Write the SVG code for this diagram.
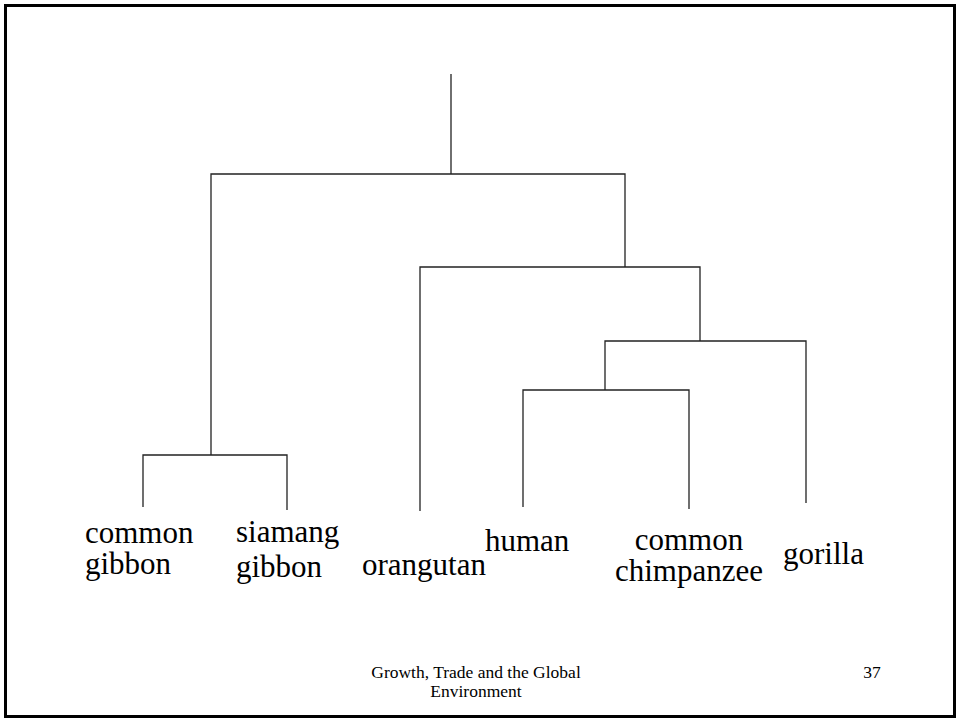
<svg xmlns="http://www.w3.org/2000/svg" width="960" height="721" viewBox="0 0 960 721">
<style>
.frame{fill:#fff;stroke:#000;stroke-width:3}
.edge{fill:none;stroke:#222;stroke-width:1.3}
.lbl{font-family:"Liberation Serif","Times New Roman",serif;font-size:31px;fill:#000}
.ftr{font-family:"Liberation Serif","Times New Roman",serif;font-size:17.5px;fill:#000}
</style>
<rect class="frame" x="5.5" y="5.5" width="949" height="711"/>
<g id="connectors">
<path class="edge" d="M451 74V174"/>
<path class="edge" d="M211 455V174H625V267"/>
<path class="edge" d="M143 507V455H287V510"/>
<path class="edge" d="M420 511V267H700V341"/>
<path class="edge" d="M605 390V341H806V503"/>
<path class="edge" d="M523 507V390H689V509"/>
</g>
<g id="common-gibbon"><text class="lbl" x="85" y="543">common</text><text class="lbl" x="85" y="574">gibbon</text></g>
<g id="siamang-gibbon"><text class="lbl" x="236" y="542">siamang</text><text class="lbl" x="236" y="577">gibbon</text></g>
<g id="orangutan"><text class="lbl" x="362" y="575">orangutan</text></g>
<g id="human"><text class="lbl" x="485" y="551">human</text></g>
<g id="common-chimpanzee"><text class="lbl" x="689" y="550" text-anchor="middle">common</text><text class="lbl" x="689" y="581" text-anchor="middle">chimpanzee</text></g>
<g id="gorilla"><text class="lbl" x="783" y="564">gorilla</text></g>
<g id="footer"><text class="ftr" x="476" y="678" text-anchor="middle">Growth, Trade and the Global</text><text class="ftr" x="476" y="697" text-anchor="middle">Environment</text><text class="ftr" x="872" y="678" text-anchor="middle">37</text></g>
</svg>
